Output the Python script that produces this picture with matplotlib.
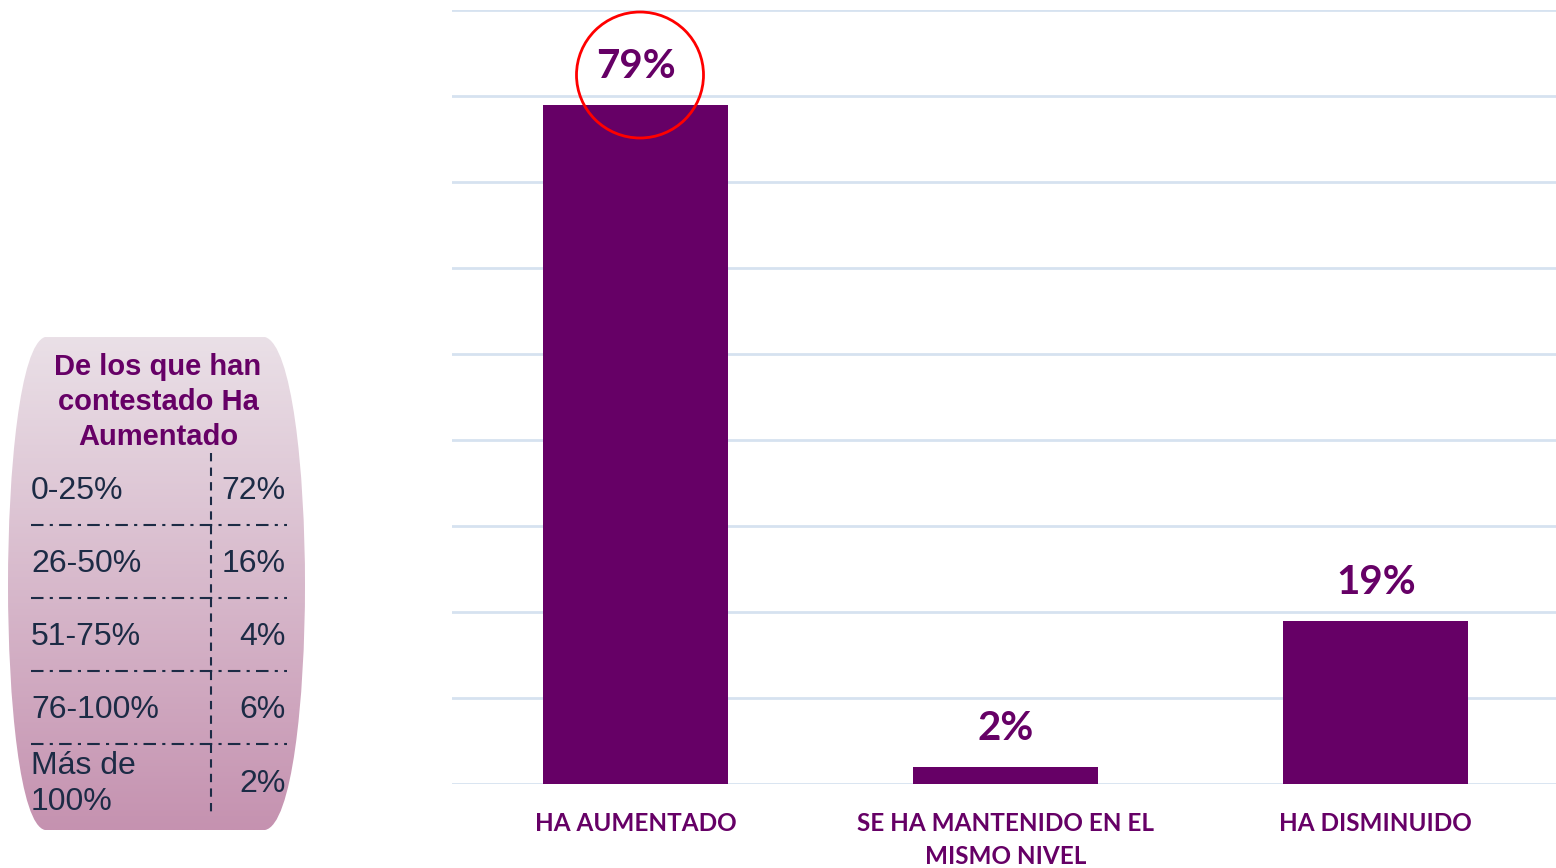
import numpy as np
import matplotlib
matplotlib.use("Agg")
import matplotlib.pyplot as plt
from matplotlib.path import Path
from matplotlib.patches import PathPatch, Ellipse

# data
categories = ["HA AUMENTADO", "SE HA MANTENIDO EN EL\nMISMO NIVEL", "HA DISMINUIDO"]
values = [79, 2, 19]

table_title = "De los que han\ncontestado Ha\nAumentado"
ranges = ["0-25%", "26-50%", "51-75%", "76-100%", "Más de\n100%"]
shares = ["72%", "16%", "4%", "6%", "2%"]

purple = "#660066"
navy = "#1C2B45"
W, H = 1556, 868

fig = plt.figure(figsize=(W / 100, H / 100), dpi=100)

# bar chart
ax = fig.add_axes([452 / W, 1 - 784 / H, 1 - 452 / W, (784 - 10) / H])
ax.set_facecolor("none")
x = np.arange(len(categories))
ax.bar(x, values, width=0.5, color=purple, zorder=3)
ax.set_xlim(-0.497, 2.487)
ax.set_ylim(0, 90)
ax.set_yticks(np.arange(0, 91, 10))
ax.yaxis.grid(True, color="#D6E2F0", linewidth=2)
ax.set_axisbelow(True)
for s in ax.spines.values():
    s.set_visible(False)
ax.tick_params(axis="y", left=False, labelleft=False)
ax.set_xticks(x)
ax.set_xticklabels(categories, fontsize=17.5, fontweight="bold", color=purple,
                   family="Lato", linespacing=1.55)
ax.tick_params(axis="x", length=0, pad=20)
for i, v in enumerate(values):
    ax.annotate(f"{v}%", (x[i], v), xytext=(0, 19), textcoords="offset points",
                ha="center", va="baseline", fontsize=29, fontweight="bold",
                color=purple, family="Lato", zorder=5)

# overlay in pixel coordinates for the side panel and the circle
ov = fig.add_axes([0, 0, 1, 1])
ov.set_xlim(0, W)
ov.set_ylim(H, 0)
ov.axis("off")
ov.patch.set_visible(False)

verts = [(45, 337), (265, 337),
         (292, 345), (305, 470), (305, 585),
         (305, 700), (292, 825), (265, 830),
         (45, 830),
         (20, 825), (8, 700), (8, 585),
         (8, 470), (20, 345), (45, 337)]
codes = [Path.MOVETO, Path.LINETO,
         Path.CURVE4, Path.CURVE4, Path.CURVE4,
         Path.CURVE4, Path.CURVE4, Path.CURVE4,
         Path.LINETO,
         Path.CURVE4, Path.CURVE4, Path.CURVE4,
         Path.CURVE4, Path.CURVE4, Path.CURVE4]
shape = PathPatch(Path(verts, codes), facecolor="none", edgecolor="none")
ov.add_patch(shape)
top = np.array([0xEA, 0xE0, 0xE7]) / 255
bot = np.array([0xC5, 0x92, 0xB0]) / 255
t = np.linspace(0, 1, 256)[:, None]
grad = (top[None, :] * (1 - t) + bot[None, :] * t)[:, None, :]
im = ov.imshow(grad, extent=(8, 305, 830, 337), aspect="auto", zorder=1)
im.set_clip_path(shape)
ov.set_xlim(0, W)
ov.set_ylim(H, 0)

ov.text(158, 402, table_title, ha="center", va="center", fontsize=21,
        fontweight="bold", color=purple, family="Liberation Sans",
        linespacing=1.32, zorder=3)

row_h = 73
first = 491
for i, (r, s) in enumerate(zip(ranges, shares)):
    yc = first + i * row_h + (1 if "\n" in r else 0)
    ov.text(31, yc, r, ha="left", va="center", fontsize=23, color=navy,
            family="Liberation Sans", linespacing=1.28, zorder=3)
    ov.text(286, yc, s, ha="right", va="center", fontsize=23, color=navy,
            family="Liberation Sans", zorder=3)
    if i < len(ranges) - 1:
        yl = first + i * row_h + 34
        ov.plot([31, 287], [yl, yl], color=navy, lw=1.5,
                dashes=(6, 3, 1.5, 3), zorder=3)
ov.plot([211, 211], [453, 815], color=navy, lw=1.5, dashes=(4, 3), zorder=3)

ov.add_patch(Ellipse((640, 75), 127, 126, facecolor="none", edgecolor="#FF0000",
                     linewidth=2, zorder=6))

fig.savefig("out.png", dpi=100)
